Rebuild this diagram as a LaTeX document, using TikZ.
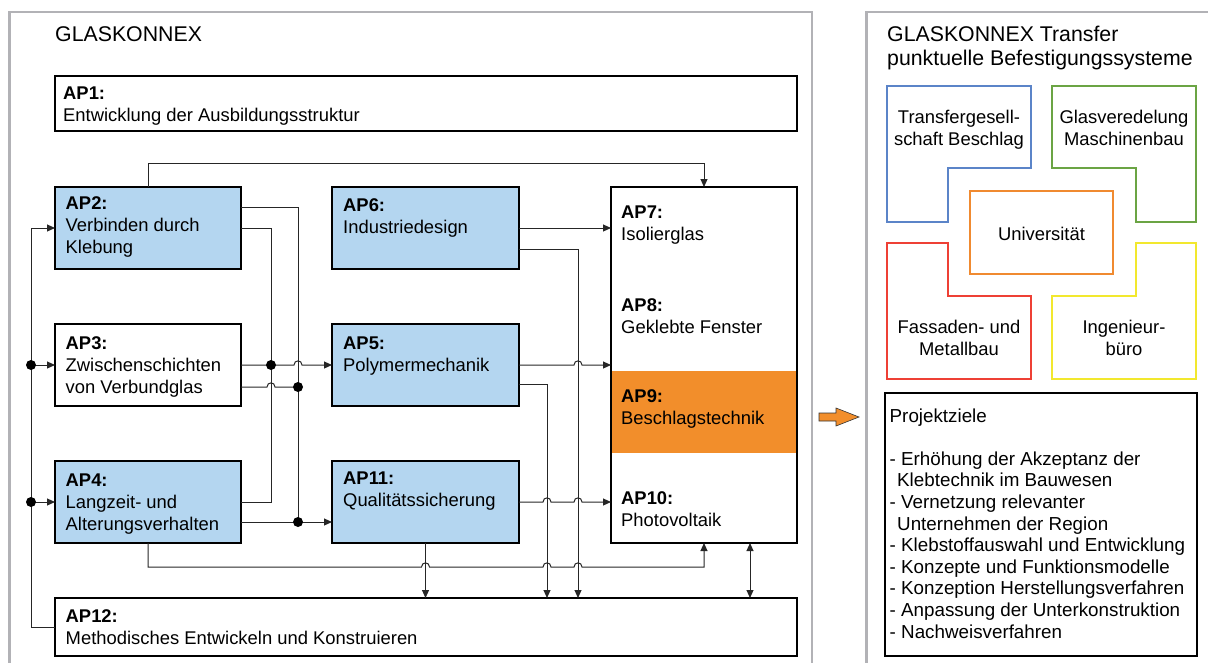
\documentclass[tikz,border=0pt]{standalone}
\usepackage{fontspec}
\setmainfont{Liberation Sans}
\usetikzlibrary{calc,arrows.meta}
\definecolor{apblue}{HTML}{B4D6F0}
\definecolor{aporange}{HTML}{F28E2B}
\definecolor{panelgray}{HTML}{B2B2B6}
\definecolor{tblue}{HTML}{5B84C8}
\definecolor{tgreen}{HTML}{6BA444}
\definecolor{torange}{HTML}{F08A30}
\definecolor{tred}{HTML}{EE4035}
\definecolor{tyellow}{HTML}{F2E82E}
\newcommand\fnt{\fontsize{18.4pt}{21.8pt}\selectfont}
\newcommand\tfnt{\fontsize{21.3pt}{24.5pt}\selectfont}
\newcommand\lfnt{\fontsize{18.8pt}{21.6pt}\selectfont}
\begin{document}
\begin{tikzpicture}[x=1pt,y=-1pt,
  apbox/.style={draw=black, line width=2pt, inner sep=0pt, outer sep=0pt, anchor=north west},
  bluebox/.style={apbox, fill=apblue},
  txt/.style={font=\fnt, inner sep=0pt, anchor=north west, align=left},
  conn/.style={draw=black!85, line width=1pt},
  arr/.style={conn, -{Triangle[length=8pt,width=7pt]}},
  darr/.style={conn, {Triangle[length=8pt,width=7pt]}-{Triangle[length=8pt,width=7pt]}},
  jdot/.style={fill=black},
  panel/.style={draw=panelgray, line width=2.5pt},
  partner/.style={line width=2pt},
  ptxt/.style={font=\fnt, inner sep=0pt, anchor=north, align=center},
  hop/.style 2 args={insert path={-- ({#1-4},#2) .. controls ({#1-4},{#2-5.5}) and ({#1+4},{#2-5.5}) .. ({#1+4},#2)}},
]
\useasboundingbox (0,0) rectangle (1208,662);

% panels
\draw[panel] (9.5,675) -- (9.5,12) -- (812,12) -- (812,675);
\draw[panel] (866.5,675) -- (866.5,12) -- (1215,12);

% titles
\node[font=\tfnt, anchor=base west, inner sep=0pt] (title1) at (55,41) {GLASKONNEX};
\node[font=\tfnt, anchor=north west, inner sep=0pt, align=left] (title2) at (887,25.8) {GLASKONNEX Transfer\\punktuelle Befestigungssysteme};

% boxes
\node[apbox, minimum width=742pt, minimum height=55pt] (ap1) at (55,76) {};
\node[bluebox, minimum width=186pt, minimum height=82pt] (ap2) at (55,187) {};
\node[apbox, minimum width=186pt, minimum height=82pt] (ap3) at (55,324) {};
\node[bluebox, minimum width=186pt, minimum height=82pt] (ap4) at (55,461) {};
\node[apbox, minimum width=742pt, minimum height=58pt] (ap12) at (55,598) {};
\node[bluebox, minimum width=187pt, minimum height=82pt] (ap6) at (332,187) {};
\node[bluebox, minimum width=187pt, minimum height=82pt] (ap5) at (332,324) {};
\node[bluebox, minimum width=187pt, minimum height=82pt] (ap11) at (332,461) {};
\node[apbox, minimum width=186pt, minimum height=356pt] (big) at (611,187) {};
\fill[aporange] ($(big.north west)+(0,184)$) rectangle ($(big.north east)+(0,266)$);
\draw[line width=2pt] (big.north west) rectangle (big.south east);

% texts
\node[txt] (t1) at ($(ap1.north west)+(8,10.8)$) {\textbf{AP1:}\\Entwicklung der Ausbildungsstruktur};
\node[txt] (t2) at ($(ap2.north west)+(10.5,9.8)$) {\textbf{AP2:}\\Verbinden durch\\Klebung};
\node[txt] (t3) at ($(ap3.north west)+(10.5,12.8)$) {\textbf{AP3:}\\Zwischenschichten\\von Verbundglas};
\node[txt] (t4) at ($(ap4.north west)+(10.5,12.8)$) {\textbf{AP4:}\\Langzeit- und\\Alterungsverhalten};
\node[txt] (t12) at ($(ap12.north west)+(10.5,11.8)$) {\textbf{AP12:}\\Methodisches Entwickeln und Konstruieren};
\node[txt] (t6) at ($(ap6.north west)+(11,11.3)$) {\textbf{AP6:}\\Industriedesign};
\node[txt] (t5) at ($(ap5.north west)+(11,12.8)$) {\textbf{AP5:}\\Polymermechanik};
\node[txt] (t11) at ($(ap11.north west)+(11,10.8)$) {\textbf{AP11:}\\Qualitätssicherung};
\node[txt] (t7) at ($(big.north west)+(10,18.8)$) {\textbf{AP7:}\\Isolierglas};
\node[txt] (t8) at ($(big.north west)+(10,111.5)$) {\textbf{AP8:}\\Geklebte Fenster};
\node[txt] (t9) at ($(big.north west)+(10,202.8)$) {\textbf{AP9:}\\Beschlagstechnik};
\node[txt] (t10) at ($(big.north west)+(10,304.8)$) {\textbf{AP10:}\\Photovoltaik};

% helper coordinates
\coordinate (bus) at (31,0);
\coordinate (va) at (271,0);
\coordinate (vb) at (298,0);
\coordinate (vc) at (547,0);
\coordinate (vd) at (578,0);
\coordinate (ve) at (750,0);

% connectors
\draw[arr] (ap2.north) -- ++(0,-24) -| (big.north);
\draw[arr] (ap12.west) -- (bus |- ap12.west) |- (ap2.west);
\draw[arr] (bus |- ap3.west) -- (ap3.west);
\draw[arr] (bus |- ap4.west) -- (ap4.west);
\draw[conn] ($(ap2.east)+(0,-21)$) -| ($(vb |- ap4.east)+(0,20)$);
\draw[conn] (ap2.east) -| (va |- ap4.east) -- (ap4.east);
\draw[arr] (ap3.east) [hop={298}{365}] -- (ap5.west);
\draw[conn] ($(ap3.east)+(0,22)$) [hop={271}{387}] -- (vb |- 0,387);
\draw[arr] ($(ap4.east)+(0,20)$) -- ($(ap11.west)+(0,20)$);
\draw[arr] (ap6.east) -- (ap6.east -| big.west);
\draw[arr] ($(ap6.east)+(0,21)$) -| (vd |- ap12.north);
\draw[arr] (ap5.east) [hop={578}{365}] -- (ap5.east -| big.west);
\draw[arr] ($(ap5.east)+(0,19)$) -| (vc |- ap12.north);
\draw[arr] (ap11.east) [hop={547}{502}] [hop={578}{502}] -- (ap11.east -| big.west);
\draw[arr] (ap11.south) -- (ap11.south |- ap12.north);
\draw[arr] (ap4.south) -- ++(0,24) [hop={425.5}{567}] [hop={547}{567}] [hop={578}{567}] -| (big.south);
\draw[darr] (ve |- big.south) -- (ve |- ap12.north);

% junction dots
\fill[jdot] (bus |- ap3.west) circle (5pt);
\fill[jdot] (bus |- ap4.west) circle (5pt);
\fill[jdot] (va |- ap3.east) circle (5pt);
\fill[jdot] (vb |- 0,387) circle (5pt);
\fill[jdot] ($(vb |- ap4.east)+(0,20)$) circle (5pt);

% transfer arrow
\draw[fill=aporange, draw=black!80, line width=0.6pt] (819,413) -- (836,413) -- (836,408) -- (859,417) -- (836,426) -- (836,421) -- (819,421) -- cycle;

% partners
\draw[partner, tblue] (887,86) -- (1031,86) -- (1031,168) -- (948,168) -- (948,222) -- (887,222) -- cycle;
\node[ptxt] (p1) at (959,109.8) {Transfergesell-\\schaft Beschlag};
\draw[partner, tgreen] (1052,86) -- (1196,86) -- (1196,222) -- (1136,222) -- (1136,168) -- (1052,168) -- cycle;
\node[ptxt] (p2) at (1124,109.8) {Glasveredelung\\Maschinenbau};
\draw[partner, torange] (970,191) rectangle (1113,274);
\node[font=\fnt, inner sep=0pt, anchor=base] (p3) at (1041.5,240) {Universität};
\draw[partner, tred] (887,243) -- (948,243) -- (948,296) -- (1031,296) -- (1031,379) -- (887,379) -- cycle;
\node[ptxt] (p4) at (959,319.8) {Fassaden- und\\Metallbau};
\draw[partner, tyellow] (1136,243) -- (1196,243) -- (1196,379) -- (1052,379) -- (1052,296) -- (1136,296) -- cycle;
\node[ptxt] (p5) at (1124,319.8) {Ingenieur-\\büro};

% goals
\node[apbox, minimum width=312pt, minimum height=263pt] (ziele) at (885,393) {};
\node[font=\lfnt, inner sep=0pt, anchor=north west, align=left] (zt) at ($(ziele.north west)+(4.5,15.2)$) {Projektziele\\[21.6pt]
- Erhöhung der Akzeptanz der\\
\hspace*{7.5pt}Klebtechnik im Bauwesen\\
- Vernetzung relevanter\\
\hspace*{7.5pt}Unternehmen der Region\\
- Klebstoffauswahl und Entwicklung\\
- Konzepte und Funktionsmodelle\\
- Konzeption Herstellungsverfahren\\
- Anpassung der Unterkonstruktion\\
- Nachweisverfahren};
\end{tikzpicture}
\end{document}
